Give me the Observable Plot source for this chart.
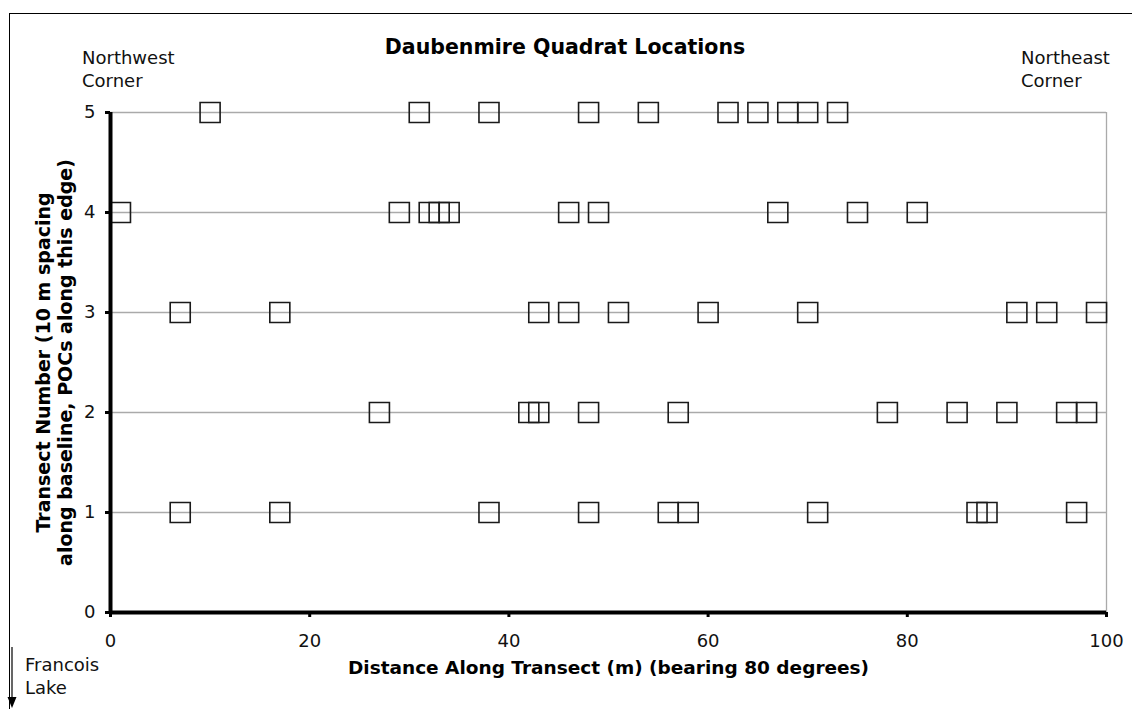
<!DOCTYPE html>
<html><head><meta charset="utf-8">
<script src="https://cdn.jsdelivr.net/npm/d3@7"></script>
<script src="https://cdn.jsdelivr.net/npm/@observablehq/plot@0.6"></script>
<style>
body{margin:0;background:#fff;overflow:hidden;font-family:"DejaVu Sans",Verdana,sans-serif;}
#wrap{position:relative;width:1132px;height:709px;overflow:hidden;background:#fff;}
#frame{position:absolute;left:9px;top:13px;width:1200px;height:800px;border:1px solid #000;}
.note{position:absolute;font-size:18px;line-height:23px;color:#111;}
#title{position:absolute;left:0;top:35px;width:1130px;text-align:center;font-weight:bold;font-size:20.5px;color:#000;}
#chart{position:absolute;left:0;top:0;}
</style></head><body>
<div id="wrap">
<div id="frame"></div>
<div id="title">Daubenmire Quadrat Locations</div>
<div class="note" style="left:82px;top:46px">Northwest<br>Corner</div>
<div class="note" style="left:1021px;top:46px">Northeast<br>Corner</div>
<div class="note" style="left:25px;top:653px">Francois<br>Lake</div>
<svg style="position:absolute;left:0;top:0" width="30" height="709"><line x1="12" y1="647" x2="12" y2="700" stroke="#000" stroke-width="1.2"/><path d="M7.5,697 L16.5,697 L12,708 Z" fill="#000"/></svg>
<div id="chart"></div>
</div>
<script>
// Quadrat distances (m) along each transect
const transect1 = [7, 17, 38, 48, 56, 58, 71, 87, 88, 97];
const transect2 = [27, 42, 43, 48, 57, 78, 85, 90, 96, 98];
const transect3 = [7, 17, 43, 46, 51, 60, 70, 91, 94, 99];
const transect4 = [1, 29, 32, 33, 34, 46, 49, 67, 75, 81];
const transect5 = [10, 31, 38, 48, 54, 62, 65, 68, 70, 73];
const transectNumbers = [1, 2, 3, 4, 5];
const xTicks = [0, 20, 40, 60, 80, 100];
const yTicks = [0, 1, 2, 3, 4, 5];
const xLabel = "Distance Along Transect (m) (bearing 80 degrees)";
const yLabel = "Transect Number (10 m spacing\nalong baseline, POCs along this edge)";

const allTransects = [transect1, transect2, transect3, transect4, transect5];
const quadrats = allTransects.flatMap((arr, i) => arr.map(d => ({transect: transectNumbers[i], distance: d})));

const chart = Plot.plot({
  width: 1132, height: 709,
  marginLeft: 110, marginRight: 26, marginTop: 112, marginBottom: 97,
  x: {domain: [xTicks[0], xTicks[xTicks.length - 1]]},
  y: {domain: [yTicks[0], yTicks[yTicks.length - 1]]},
  style: {fontFamily: '"DejaVu Sans", Verdana, sans-serif', fontSize: "18px", background: "transparent", color: "#111"},
  marks: [
    Plot.ruleY(transectNumbers, {stroke: "#aaa", strokeWidth: 1.3}),
    Plot.ruleX([xTicks[xTicks.length - 1]], {stroke: "#aaa", strokeWidth: 1.3}),
    Plot.dot(quadrats, {x: "distance", y: "transect", symbol: "square", r: 11.3, stroke: "#1a1a1a", strokeWidth: 1.6, fill: "none"}),
    Plot.ruleY([yTicks[0]], {stroke: "#000", strokeWidth: 4}),
    Plot.ruleX([xTicks[0]], {stroke: "#000", strokeWidth: 4}),
    Plot.axisX(xTicks, {tickSize: 5, tickPadding: 17, strokeWidth: 3, stroke: "#000", label: null, fill: "#111", fontSize: 18, tickFormat: d => String(d)}),
    Plot.axisY(yTicks, {tickSize: 5, tickPadding: 10, strokeWidth: 3, stroke: "#000", label: null, fill: "#111", fontSize: 18, tickFormat: d => String(d)}),
    Plot.text([xLabel], {frameAnchor: "bottom", dy: 61, fontWeight: "bold", fontSize: 18.5, fill: "#000"}),
    Plot.text([yLabel], {frameAnchor: "left", textAnchor: "middle", rotate: -90, dx: -57, lineHeight: 1.17, fontWeight: "bold", fontSize: 19, fill: "#000"})
  ]
});
document.getElementById("chart").appendChild(chart);
</script>
</body></html>
